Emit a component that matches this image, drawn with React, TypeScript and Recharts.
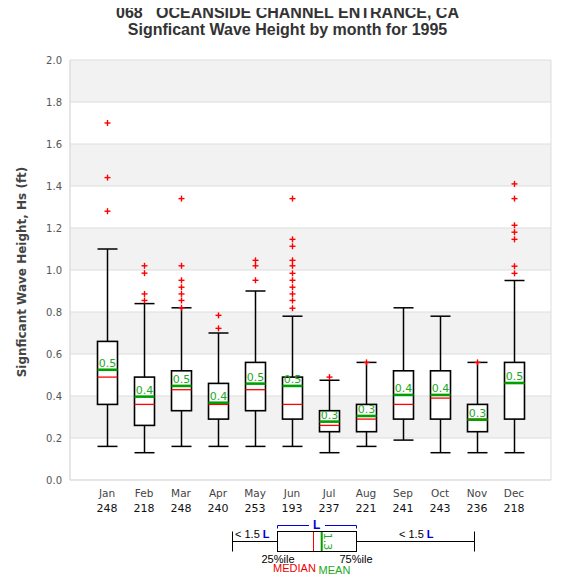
import { ComposedChart, Bar, XAxis, YAxis, CartesianGrid } from 'recharts'

const months = ['Jan', 'Feb', 'Mar', 'Apr', 'May', 'Jun', 'Jul', 'Aug', 'Sep', 'Oct', 'Nov', 'Dec']
const counts = [248, 218, 248, 240, 253, 193, 237, 221, 241, 243, 236, 218]
const lowWhisker = [0.16, 0.13, 0.16, 0.16, 0.16, 0.16, 0.13, 0.16, 0.19, 0.13, 0.13, 0.13]
const q1 = [0.36, 0.26, 0.33, 0.29, 0.33, 0.29, 0.23, 0.23, 0.29, 0.29, 0.23, 0.29]
const medians = [0.49, 0.36, 0.43, 0.36, 0.43, 0.36, 0.26, 0.29, 0.36, 0.39, 0.29, 0.46]
const means = [0.525, 0.397, 0.448, 0.368, 0.459, 0.448, 0.278, 0.305, 0.405, 0.405, 0.287, 0.462]
const q3 = [0.66, 0.49, 0.52, 0.46, 0.56, 0.49, 0.33, 0.36, 0.52, 0.52, 0.36, 0.56]
const highWhisker = [1.1, 0.84, 0.82, 0.7, 0.9, 0.78, 0.475, 0.56, 0.82, 0.78, 0.56, 0.95]
const meanLabels = ['0.5', '0.4', '0.5', '0.4', '0.5', '0.5', '0.3', '0.3', '0.4', '0.4', '0.3', '0.5']
const outliers = [
  [1.7, 1.44, 1.28],
  [1.02, 0.985, 0.886, 0.855],
  [1.34, 1.02, 0.951, 0.918, 0.886, 0.855, 0.82],
  [0.784, 0.722],
  [1.046, 1.02, 0.951],
  [1.34, 1.146, 1.113, 1.046, 1.02, 0.984, 0.951, 0.918, 0.886, 0.855, 0.818],
  [0.49],
  [0.56],
  [],
  [],
  [0.56],
  [1.41, 1.34, 1.213, 1.18, 1.146, 1.018, 0.984],
]
const yTicks = [0, 0.2, 0.4, 0.6, 0.8, 1.0, 1.2, 1.4, 1.6, 1.8, 2.0]

const data = months.map((m, i) => ({
  month: m,
  count: counts[i],
  range: [lowWhisker[i], highWhisker[i]],
  lo: lowWhisker[i],
  q1: q1[i],
  median: medians[i],
  mean: means[i],
  q3: q3[i],
  hi: highWhisker[i],
  meanLabel: meanLabels[i],
  outliers: outliers[i],
}))

// the bar spans lo..hi, so its pixel box gives the y scale for the rest of the glyph
function BoxShape(props: any) {
  const { x, y, width, height, payload } = props
  const top = Math.min(y, y + height)
  const h = Math.abs(height)
  const k = h / (payload.hi - payload.lo)
  const py = (v: number) => top + (payload.hi - v) * k
  const cx = x + width / 2
  const l = x
  const r = x + width
  return (
    <g>
      <line x1={cx} x2={cx} y1={py(payload.hi)} y2={py(payload.q3)} stroke="#000" strokeWidth={1.5} />
      <line x1={cx} x2={cx} y1={py(payload.q1)} y2={py(payload.lo)} stroke="#000" strokeWidth={1.5} />
      <line x1={l} x2={r} y1={py(payload.hi)} y2={py(payload.hi)} stroke="#000" strokeWidth={1.5} />
      <line x1={l} x2={r} y1={py(payload.lo)} y2={py(payload.lo)} stroke="#000" strokeWidth={1.5} />
      <rect x={l} y={py(payload.q3)} width={width} height={py(payload.q1) - py(payload.q3)} fill="#fff" stroke="#000" strokeWidth={1.6} />
      <line x1={l} x2={r} y1={py(payload.median)} y2={py(payload.median)} stroke="#ff0000" strokeWidth={1.3} />
      <line x1={l} x2={r} y1={py(payload.mean)} y2={py(payload.mean)} stroke="#00a000" strokeWidth={2.6} />
      <text x={cx} y={py(payload.mean) - 3} textAnchor="middle" fontSize={11} fill="#22aa22" fontFamily="DejaVu Sans">
        {payload.meanLabel}
      </text>
      {payload.outliers.map((v: number, j: number) => (
        <g key={j} stroke="#ff0000" strokeWidth={1.4}>
          <line x1={cx - 3} x2={cx + 3} y1={py(v)} y2={py(v)} />
          <line x1={cx} x2={cx} y1={py(v) - 3} y2={py(v) + 3} />
        </g>
      ))}
    </g>
  )
}

function MonthTick(props: any) {
  const { x, y, payload } = props
  return (
    <g>
      <text x={x} y={y + 9} textAnchor="middle" fontSize={10.5} fill="#444" fontFamily="DejaVu Sans">
        {payload.value}
      </text>
      <text x={x} y={y + 24} textAnchor="middle" fontSize={11} fill="#111" fontFamily="DejaVu Sans">
        {counts[payload.index]}
      </text>
    </g>
  )
}

export default function App() {
  return (
    <div style={{ position: 'relative', width: 567, height: 572 }}>
      <ComposedChart
        width={567}
        height={572}
        data={data}
        margin={{ top: 52, right: 24, left: 0, bottom: 60 }}
      >
        <CartesianGrid
          stroke="#dddddd"
          horizontalFill={['#f2f2f2', '#ffffff']}
          verticalPoints={[62, 543]}
        />
        <XAxis
          dataKey="month"
          height={40}
          padding={{ left: 18.5, right: 18.5 }}
          axisLine={{ stroke: '#dddddd' }}
          tickLine={false}
          tick={<MonthTick />}
          interval={0}
        />
        <YAxis
          width={62}
          domain={[0, 2]}
          ticks={yTicks}
          tickFormatter={(v: number) => v.toFixed(1)}
          axisLine={{ stroke: '#dddddd' }}
          tickLine={false}
          tick={{ fontSize: 10, fill: '#555', fontFamily: 'DejaVu Sans' }}
        />
        <Bar dataKey="range" barSize={20} shape={<BoxShape />} isAnimationActive={false} />
      </ComposedChart>
      <svg
        width={567}
        height={572}
        style={{ position: 'absolute', left: 0, top: 0, pointerEvents: 'none' }}
      >
        <g fontFamily="Liberation Sans, Arial" fontWeight="bold" fontSize={16} fill="#333" textAnchor="middle">
          <text x={279.5} y={9.5} style={{ whiteSpace: 'pre' }}>068   OCEANSIDE CHANNEL ENTRANCE, CA</text>
          <text x={279.5} y={26.5}>Signficant Wave Height by month for 1995</text>
        </g>
        <text
          transform="translate(18, 264) rotate(-90)"
          textAnchor="middle"
          fontFamily="DejaVu Sans"
          fontWeight="bold"
          fontSize={12}
          fill="#444"
        >
          Signficant Wave Height, Hs (ft)
        </text>
        {/* legend */}
        <g stroke="#000" strokeWidth={1}>
          <line x1={224.5} x2={224.5} y1={523.5} y2={543.5} />
          <line x1={224.5} x2={269.5} y1={533.5} y2={533.5} />
          <rect x={269.5} y={523.5} width={79} height={20} fill="#fff" />
          <line x1={348.5} x2={466.5} y1={533.5} y2={533.5} />
          <line x1={466.5} x2={466.5} y1={523.5} y2={543.5} />
        </g>
        <line x1={305.5} x2={305.5} y1={524} y2={543} stroke="#ff0000" strokeWidth={1} />
        <line x1={313.7} x2={313.7} y1={524} y2={543} stroke="#00a000" strokeWidth={2} />
        <text transform="translate(316, 533.5) rotate(90)" textAnchor="middle" fontSize={11} fill="#22aa22" fontFamily="DejaVu Sans">
          1.3
        </text>
        <g stroke="#0000dd" strokeWidth={1} fill="none">
          <polyline points="269.5,520.5 269.5,517.5 301,517.5" />
          <polyline points="317,517.5 348.5,517.5 348.5,520.5" />
        </g>
        <g fontFamily="Liberation Sans, Arial" fontSize={11}>
          <text x={308.7} y={521} textAnchor="middle" fill="#0000dd" fontWeight="bold" fontSize={12}>L</text>
          <text x={227} y={530} fill="#000">
            {'< 1.5 '}
            <tspan fill="#0000dd" fontWeight="bold">L</tspan>
          </text>
          <text x={391} y={530} fill="#000">
            {'< 1.5 '}
            <tspan fill="#0000dd" fontWeight="bold">L</tspan>
          </text>
          <text x={270} y={555} textAnchor="middle" fill="#000">25%ile</text>
          <text x={348} y={555} textAnchor="middle" fill="#000">75%ile</text>
          <text x={286.5} y={564} textAnchor="middle" fill="#ee0000">MEDIAN</text>
          <text x={326.5} y={566} textAnchor="middle" fill="#22aa22">MEAN</text>
        </g>
      </svg>
    </div>
  )
}
